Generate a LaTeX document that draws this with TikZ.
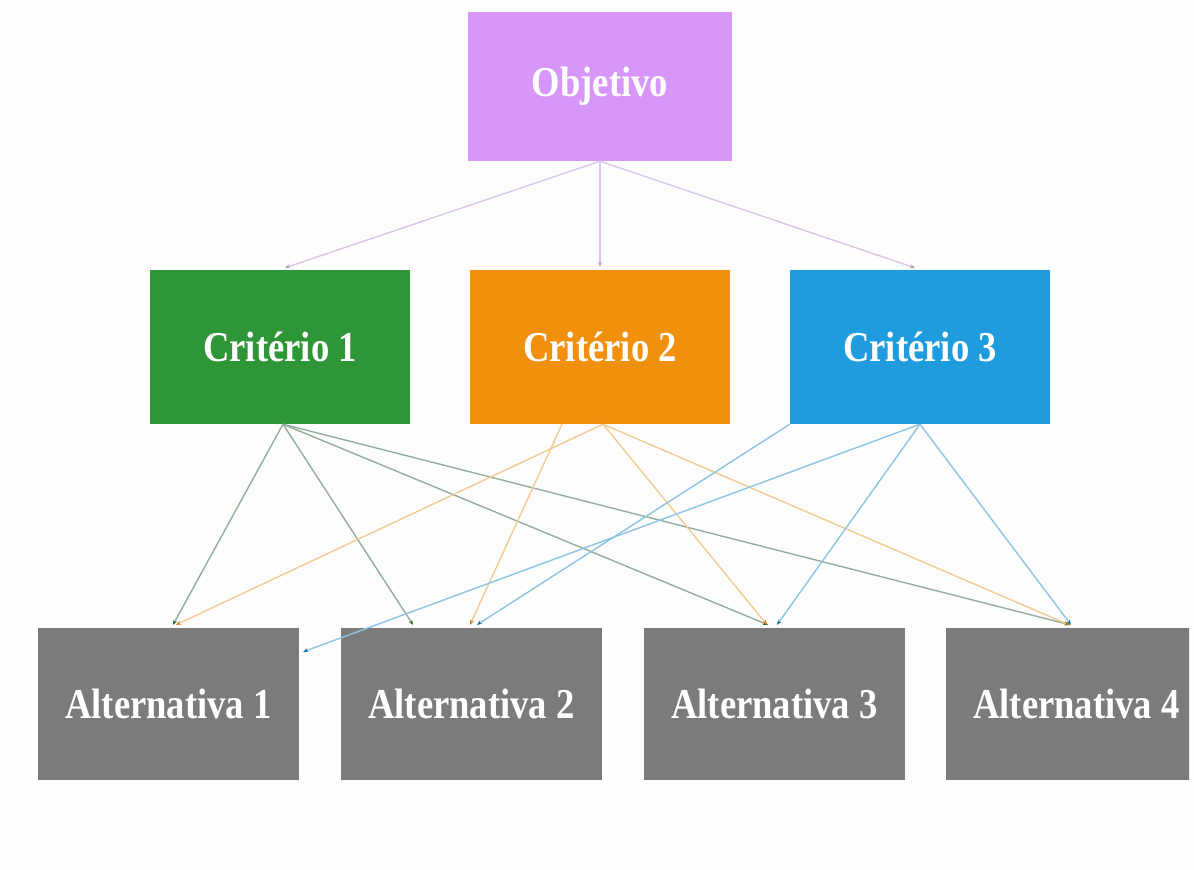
\documentclass[tikz,border=0pt]{standalone}
\usepackage{fontspec}
\usepackage{graphicx}
\setmainfont{Liberation Serif}
\usetikzlibrary{arrows.meta,calc}
\definecolor{objc}{HTML}{D797FA}
\definecolor{c1c}{HTML}{2E9637}
\definecolor{c2c}{HTML}{F0900C}
\definecolor{c3c}{HTML}{1E9CDD}
\definecolor{altc}{HTML}{7B7B7B}
\definecolor{objl}{HTML}{D9C6EA}
\definecolor{c1l}{HTML}{93AE9A}
\definecolor{c2l}{HTML}{F2CB92}
\definecolor{c3l}{HTML}{8DC3E3}
\definecolor{bgc}{HTML}{FDFDFD}
\newcommand{\vstr}[1]{\scalebox{0.99}[1.15]{#1}}
\begin{document}
\begin{tikzpicture}[x=1pt,y=-1pt,
  box/.style={inner sep=0pt, text=white, font=\bfseries\fontsize{37}{40}\selectfont},
  critbox/.style={box, minimum width=260pt, minimum height=154pt},
  altbox/.style={box, fill=altc, minimum width=261pt, minimum height=152pt},
  conn/.style={line width=1.4pt},
  objarrow/.style={conn, draw=objl, -{Stealth[length=5pt,width=4pt,color=objl!80!black]}},
  g/.style={conn, draw=c1l, -{Stealth[length=5pt,width=4pt,color=c1c!70!black]}},
  o/.style={conn, draw=c2l, -{Stealth[length=5pt,width=4pt,color=c2c!85!black]}},
  b/.style={conn, draw=c3l, -{Stealth[length=5pt,width=4pt,color=c3c!70!black]}}
]
\useasboundingbox (0,0) rectangle (1194,870);
\fill[bgc] (0,0) rectangle (1194,870);
\begin{scope}
\clip (0,0) rectangle (1189,870);
\node[box, fill=objc, minimum width=264pt, minimum height=149pt] (obj) at (600,86.5) {\vstr{Objetivo}};
\node[critbox, fill=c1c] (c1) at (280,347) {\vstr{Critério 1}};
\node[critbox, fill=c2c] (c2) at (600,347) {\vstr{Critério 2}};
\node[critbox, fill=c3c] (c3) at (920,347) {\vstr{Critério 3}};
\node[altbox] (a1) at (168.5,704) {\vstr{Alternativa 1}};
\node[altbox] (a2) at (471.5,704) {\vstr{Alternativa 2}};
\node[altbox] (a3) at (774.5,704) {\vstr{Alternativa 3}};
\node[altbox] (a4) at (1076.5,704) {\vstr{Alternativa 4}};
\end{scope}
% Objetivo to criteria
\draw[objarrow] (obj.south) -- ($(c1.north)+(5,-2)$);
\draw[objarrow] (obj.south) -- ($(c2.north)+(0,-3)$);
\draw[objarrow] (obj.south) -- ($(c3.north)+(-5,-2)$);
% Criterio 1
\draw[g] ($(c1.south)+(3,0)$) -- ($(a1.north)+(4.5,-3)$);
\draw[g] ($(c1.south)+(3,0)$) -- ($(a2.north)+(-58.5,-3)$);
\draw[g] ($(c1.south)+(3,0)$) -- ($(a3.north)+(-6.5,-3)$);
\draw[g] ($(c1.south)+(3,0)$) -- ($(a4.north)+(-6.5,-3)$);
% Criterio 2
\draw[o] ($(c2.south)+(3,0)$) -- ($(a1.north)+(7.5,-3)$);
\draw[o] ($(c2.south)+(-38,0)$) -- ($(a2.north)+(-1.5,-3)$);
\draw[o] ($(c2.south)+(3,0)$) -- ($(a3.north)+(-7.5,-3)$);
\draw[o] ($(c2.south)+(3,0)$) -- ($(a4.north)+(-7.5,-3)$);
% Criterio 3
\draw[b] (c3.south) -- ($(a1.north east)+(4,24)$);
\draw[b] (c3.south west) -- ($(a2.north)+(5.5,-3)$);
\draw[b] (c3.south) -- ($(a3.north)+(2.5,-3)$);
\draw[b] (c3.south) -- ($(a4.north)+(-5.5,-3)$);
\end{tikzpicture}
\end{document}
